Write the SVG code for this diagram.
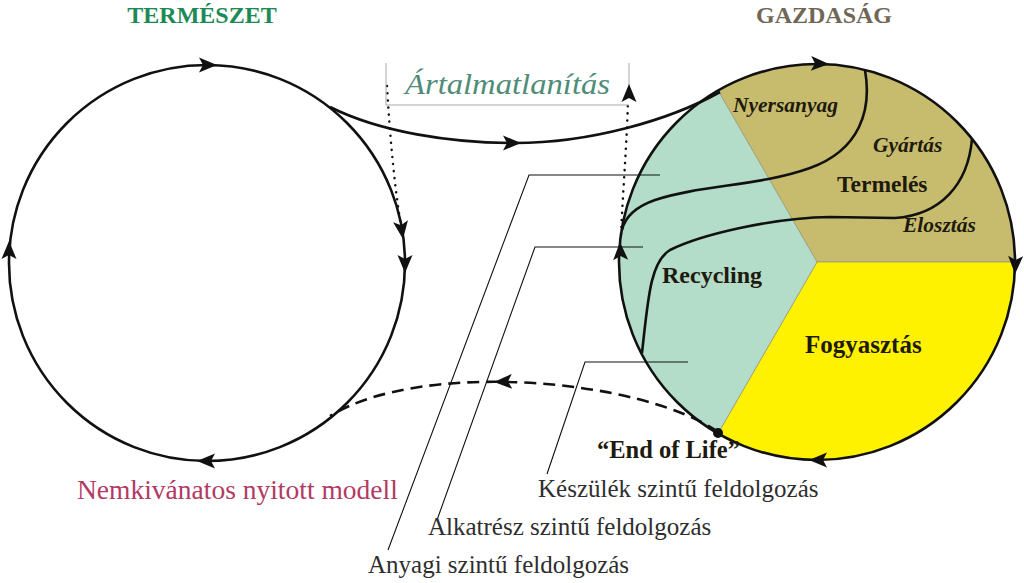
<svg xmlns="http://www.w3.org/2000/svg" xmlns:xlink="http://www.w3.org/1999/xlink" width="1024" height="583" viewBox="0 0 1024 583">
<style>
text{font-family:"Liberation Serif","Times New Roman",serif}
.b{font-weight:bold}
.bi{font-weight:bold;font-style:italic}
.lbl{fill:#1e1a0e}
.lead{fill:#2e2e2e}
.ln{fill:none;stroke:#111;stroke-width:2.6}
.thin{fill:none;stroke:#111;stroke-width:1.1}
.dash{fill:none;stroke:#111;stroke-width:2.6;stroke-dasharray:12 7}
.dot{fill:none;stroke:#111;stroke-width:2.5;stroke-linecap:round;stroke-dasharray:0.1 7}
.box{fill:none;stroke:#a8a8a8;stroke-width:1}
.sec{stroke:#9c9a78;stroke-width:0.8}
</style>
<defs>
<path id="ah" d="M0,0 L-18,-7.5 L-14,0 L-18,7.5 Z" fill="#111"/>
</defs>
<rect width="1024" height="583" fill="#fff"/>

<g id="termeszet">
<circle class="ln" cx="207" cy="263" r="198"/>
<text class="b" x="202" y="23" font-size="24" fill="#1d8a55" text-anchor="middle">TERMÉSZET</text>
</g>

<g id="gazdasag">
<path class="sec" d="M817,262 L718,90.5 A198,198 0 0 1 1015,262 Z" fill="#c7bc6d"/>
<path class="sec" d="M817,262 L1015,262 A198,198 0 0 1 718,433.5 Z" fill="#fff200"/>
<path class="sec" d="M817,262 L718,433.5 A198,198 0 0 1 718,90.5 Z" fill="#b3dcc9"/>
<text class="b" x="824" y="23" font-size="24" fill="#706655" text-anchor="middle">GAZDASÁG</text>
</g>

<g id="leaders">
<polyline class="thin" points="388,550 529,175 660,175"/>
<polyline class="thin" points="437,520 535,247 643,247"/>
<polyline class="thin" points="547,474 585,362 688,362"/>
</g>

<g id="connectors">
<circle class="ln" cx="817" cy="262" r="198"/>
<path class="ln" d="M330,107 C380,132 450,143 515,143 C590,143 670,120 720,92"/>
<path class="ln" d="M865,70 C872,110 860,150 810,168 C760,186 700,185 655,200 C635,207 625,217 622,230"/>
<path class="ln" d="M972,139 C968,185 940,215 895,218 L830,217 C770,218 700,235 670,250 C650,262 648,300 642,353"/>
<path class="dash" d="M718,432 C640,378 420,360 330,416"/>
<path class="dot" d="M387,86 C390,140 395,190 401,226"/>
<path class="dot" d="M621,234 C623,190 627,140 628,100"/>
<path class="box" d="M386,63 L386,105 L629,105 M629,63 L629,92"/>
<circle cx="718" cy="433" r="5" fill="#111"/>
<use xlink:href="#ah" transform="translate(217,65)"/>
<use xlink:href="#ah" transform="translate(9,241) rotate(-90)"/>
<use xlink:href="#ah" transform="translate(197,461) rotate(180)"/>
<use xlink:href="#ah" transform="translate(403,239) rotate(82)"/>
<use xlink:href="#ah" transform="translate(405,273) rotate(90)"/>
<use xlink:href="#ah" transform="translate(829,64) rotate(2)"/>
<use xlink:href="#ah" transform="translate(1015,274) rotate(92)"/>
<use xlink:href="#ah" transform="translate(809,460) rotate(180)"/>
<use xlink:href="#ah" transform="translate(620,242) rotate(-92)"/>
<use xlink:href="#ah" transform="translate(521,143)"/>
<use xlink:href="#ah" transform="translate(494,382) rotate(178)"/>
<use xlink:href="#ah" transform="translate(629,84) rotate(-90)"/>
</g>

<g id="labels">
<text x="405" y="94" font-size="29" font-style="italic" fill="#4f8c78" textLength="205" lengthAdjust="spacingAndGlyphs">Ártalmatlanítás</text>
<text class="bi lbl" x="733" y="112" font-size="21.5">Nyersanyag</text>
<text class="bi lbl" x="873" y="152" font-size="21.5">Gyártás</text>
<text class="b lbl" x="837" y="192" font-size="23.5">Termelés</text>
<text class="bi lbl" x="903" y="232" font-size="21.5">Elosztás</text>
<text class="b lbl" x="662" y="283" font-size="24">Recycling</text>
<text class="b lbl" x="805" y="353" font-size="25">Fogyasztás</text>
<text class="b lbl" x="597" y="458" font-size="24.5">“End of Life”</text>
<text class="lead" x="538" y="497" font-size="25">Készülék szintű feldolgozás</text>
<text class="lead" x="428" y="535" font-size="25">Alkatrész szintű feldolgozás</text>
<text class="lead" x="368" y="573" font-size="25">Anyagi szintű feldolgozás</text>
<text x="77" y="499" font-size="27.5" fill="#b23a62">Nemkivánatos nyitott modell</text>
</g>
</svg>
